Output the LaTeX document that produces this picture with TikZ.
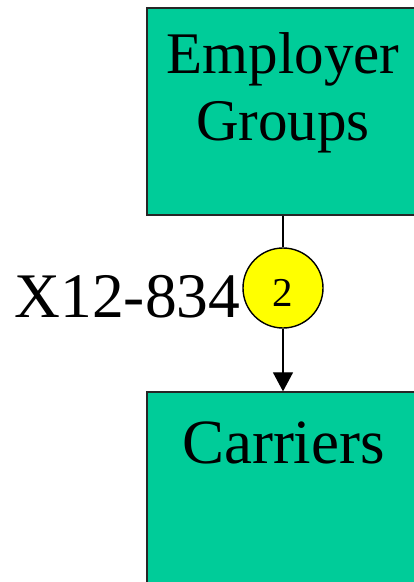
\documentclass[tikz,border=0pt]{standalone}
\usepackage{fontspec}
\setmainfont{Liberation Serif}
\usetikzlibrary{arrows.meta}
\definecolor{boxteal}{HTML}{00CC99}
\definecolor{nodeyellow}{HTML}{FFFF00}
\tikzset{
  entity/.style={draw=black!85, line width=1.3pt, fill=boxteal, rectangle,
    minimum width=272pt, inner sep=0pt},
  entitytext/.style={font=\fontsize{59}{67}\selectfont, align=center, inner sep=0pt},
  txnode/.style={draw=black, line width=1.4pt, fill=nodeyellow, circle,
    minimum size=80pt, inner sep=0pt},
  link/.style={draw=black, line width=1.2pt},
}
\begin{document}
\begin{tikzpicture}[x=1pt, y=-1pt]
  \useasboundingbox (0,0) rectangle (414,582);
  \clip (0,0) rectangle (414,582);
  % boxes
  \node[entity, minimum height=207pt] (emp) at (283,111.5) {};
  \node[entity, minimum height=220pt] (car) at (283,502) {};
  \node[entitytext, anchor=base] (emptext) at (283,73) {Employer};
  \node[entitytext, anchor=base] (grptext) at (283,140) {Groups};
  \node[entitytext, anchor=base, font=\fontsize{63}{70}\selectfont] (cartext) at (283.5,463) {Carriers};
  % transaction circle
  \node[txnode] (tx) at (283,288) {};
  \node[font=\fontsize{41}{45}\selectfont, anchor=base, inner sep=0pt] (txnum) at (283,306) {2};
  \node[font=\fontsize{63.5}{70}\selectfont, anchor=base east, inner sep=0pt] (txlabel) at (240.5,317) {X12-834};
  % connectors
  \draw[link] (emp.south) -- (tx.north);
  \draw[link, -{Triangle[length=19pt, width=20pt]}] (tx.south) -- (car.north);
\end{tikzpicture}
\end{document}
